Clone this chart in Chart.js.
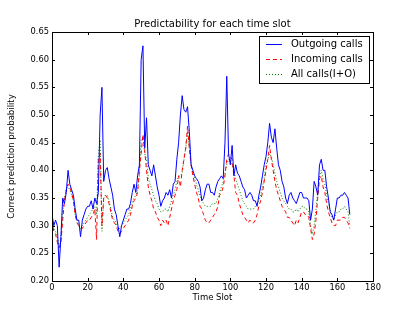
<!DOCTYPE html>
<html lang="en">
  <head>
    <meta charset="UTF-8" />
    <title>Predictability for each time slot</title>
    <script src="https://cdn.jsdelivr.net/npm/chart.js@4.4.0/dist/chart.umd.min.js"></script>
    <style>
      body { margin: 0; background: #fff; }
    </style>
  </head>
  <body>
    <canvas id="chart" width="415" height="313"></canvas>
    <script>
      // values, one per hourly slot (0..167)
      const outgoing = [
        0.32, 0.30, 0.31, 0.30, 0.225, 0.28, 0.35, 0.34, 0.36, 0.40,
        0.375, 0.365, 0.355, 0.33, 0.31, 0.31, 0.28, 0.31, 0.32, 0.33,
        0.335, 0.335, 0.345, 0.33, 0.35, 0.34, 0.36, 0.50, 0.55, 0.38,
        0.40, 0.405, 0.385, 0.37, 0.355, 0.33, 0.32, 0.30, 0.28, 0.30,
        0.31, 0.32, 0.33, 0.33, 0.34, 0.36, 0.375, 0.36, 0.39, 0.41,
        0.60, 0.625, 0.44, 0.495, 0.41, 0.40, 0.39, 0.41, 0.39, 0.37,
        0.355, 0.335, 0.345, 0.35, 0.36, 0.355, 0.365, 0.35, 0.375, 0.38,
        0.42, 0.45, 0.50, 0.535, 0.51, 0.505, 0.515, 0.47, 0.41, 0.40,
        0.39, 0.385, 0.38, 0.37, 0.345, 0.35, 0.365, 0.375, 0.375, 0.36,
        0.36, 0.355, 0.37, 0.38, 0.385, 0.39, 0.385, 0.45, 0.57, 0.43,
        0.41, 0.445, 0.39, 0.41, 0.395, 0.39, 0.38, 0.37, 0.365, 0.35,
        0.355, 0.36, 0.355, 0.345, 0.345, 0.335, 0.355, 0.37, 0.39, 0.41,
        0.425, 0.45, 0.485, 0.46, 0.45, 0.475, 0.44, 0.41, 0.40, 0.38,
        0.37, 0.35, 0.34, 0.355, 0.36, 0.35, 0.345, 0.34, 0.35, 0.36,
        0.36, 0.35, 0.35, 0.35, 0.345, 0.31, 0.33, 0.38, 0.37, 0.355,
        0.41, 0.42, 0.40, 0.40, 0.37, 0.35, 0.325, 0.32, 0.31, 0.33,
        0.35, 0.35, 0.355, 0.355, 0.36, 0.355, 0.35, 0.32
      ]
      const incoming = [
        0.31, 0.29, 0.285, 0.27, 0.26, 0.27, 0.31, 0.345, 0.365, 0.375,
        0.37, 0.36, 0.345, 0.32, 0.305, 0.30, 0.30, 0.295, 0.30, 0.305,
        0.31, 0.31, 0.315, 0.32, 0.33, 0.275, 0.42, 0.43, 0.30, 0.35,
        0.355, 0.35, 0.34, 0.325, 0.31, 0.305, 0.30, 0.29, 0.285, 0.29,
        0.295, 0.30, 0.305, 0.31, 0.32, 0.335, 0.345, 0.35, 0.36, 0.40,
        0.43, 0.465, 0.435, 0.40, 0.37, 0.355, 0.345, 0.33, 0.325, 0.315,
        0.31, 0.30, 0.31, 0.305, 0.31, 0.30, 0.315, 0.33, 0.345, 0.355,
        0.365, 0.39, 0.37, 0.40, 0.42, 0.44, 0.48, 0.44, 0.41, 0.39,
        0.375, 0.36, 0.35, 0.335, 0.33, 0.32, 0.31, 0.305, 0.305, 0.31,
        0.315, 0.32, 0.325, 0.335, 0.355, 0.36, 0.37, 0.39, 0.42, 0.43,
        0.425, 0.42, 0.39, 0.36, 0.355, 0.34, 0.33, 0.32, 0.315, 0.31,
        0.305, 0.31, 0.305, 0.305, 0.31, 0.32, 0.335, 0.345, 0.36, 0.38,
        0.40, 0.42, 0.445, 0.42, 0.40, 0.38, 0.365, 0.355, 0.345, 0.335,
        0.33, 0.325, 0.315, 0.315, 0.31, 0.305, 0.30, 0.31, 0.305, 0.315,
        0.325, 0.325, 0.32, 0.32, 0.315, 0.295, 0.275, 0.285, 0.31, 0.35,
        0.385, 0.39, 0.37, 0.36, 0.34, 0.325, 0.315, 0.305, 0.30, 0.30,
        0.31, 0.31, 0.31, 0.315, 0.315, 0.31, 0.305, 0.295
      ]
      const allCalls = [
        0.31, 0.295, 0.29, 0.28, 0.262, 0.275, 0.325, 0.35, 0.365, 0.37,
        0.365, 0.355, 0.345, 0.32, 0.31, 0.30, 0.295, 0.30, 0.305, 0.31,
        0.315, 0.32, 0.325, 0.33, 0.335, 0.32, 0.43, 0.455, 0.29, 0.35,
        0.355, 0.355, 0.345, 0.33, 0.315, 0.31, 0.305, 0.295, 0.295, 0.30,
        0.305, 0.31, 0.315, 0.32, 0.33, 0.34, 0.35, 0.355, 0.365, 0.39,
        0.455, 0.46, 0.43, 0.42, 0.385, 0.375, 0.365, 0.355, 0.345, 0.34,
        0.33, 0.325, 0.325, 0.33, 0.33, 0.325, 0.335, 0.345, 0.355, 0.365,
        0.38, 0.39, 0.39, 0.395, 0.42, 0.44, 0.47, 0.44, 0.41, 0.395,
        0.385, 0.375, 0.365, 0.355, 0.345, 0.34, 0.335, 0.335, 0.335, 0.335,
        0.34, 0.34, 0.34, 0.35, 0.36, 0.37, 0.38, 0.395, 0.41, 0.42,
        0.42, 0.41, 0.40, 0.385, 0.375, 0.365, 0.355, 0.345, 0.34, 0.335,
        0.33, 0.33, 0.33, 0.33, 0.335, 0.34, 0.345, 0.355, 0.37, 0.385,
        0.41, 0.42, 0.43, 0.425, 0.41, 0.395, 0.38, 0.37, 0.36, 0.35,
        0.345, 0.34, 0.335, 0.33, 0.33, 0.325, 0.325, 0.33, 0.325, 0.33,
        0.335, 0.335, 0.33, 0.33, 0.325, 0.30, 0.285, 0.30, 0.33, 0.36,
        0.39, 0.40, 0.385, 0.375, 0.355, 0.34, 0.33, 0.315, 0.31, 0.32,
        0.325, 0.325, 0.33, 0.33, 0.335, 0.33, 0.325, 0.30
      ]
      const seriesNames = ['Outgoing calls', 'Incoming calls', 'All calls(I+O)']
      const xTicks = [0, 20, 40, 60, 80, 100, 120, 140, 160, 180]
      const yTicks = [0.2, 0.25, 0.3, 0.35, 0.4, 0.45, 0.5, 0.55, 0.6, 0.65]

      const FONT = 'DejaVu Sans'
      const toPoints = (arr) => arr.map((v, i) => ({ x: i, y: v }))

      // matplotlib-like frame, inward ticks on all sides, titles, legend
      const frame = {
        id: 'frame',
        afterDraw(chart) {
          const c = chart.ctx
          const a = chart.chartArea
          const xs = chart.scales.x
          const ys = chart.scales.y
          c.save()
          c.strokeStyle = '#000'
          c.lineWidth = 1
          c.strokeRect(Math.round(a.left) + 0.5, Math.round(a.top) + 0.5,
            Math.round(a.right - a.left), Math.round(a.bottom - a.top))
          c.beginPath()
          xTicks.forEach((t) => {
            const px = Math.round(xs.getPixelForValue(t)) + 0.5
            c.moveTo(px, a.bottom); c.lineTo(px, a.bottom - 3)
            c.moveTo(px, a.top); c.lineTo(px, a.top + 3)
          })
          yTicks.forEach((t) => {
            const py = Math.round(ys.getPixelForValue(t)) + 0.5
            c.moveTo(a.left, py); c.lineTo(a.left + 3, py)
            c.moveTo(a.right, py); c.lineTo(a.right - 3, py)
          })
          c.stroke()

          c.fillStyle = '#000'
          c.textAlign = 'center'
          c.textBaseline = 'middle'
          c.font = '10px "' + FONT + '"'
          c.fillText('Predictability for each time slot', (a.left + a.right) / 2, 24)
          c.font = '8.5px "' + FONT + '"'
          c.fillText('Time Slot', (a.left + a.right) / 2, 298)
          c.save()
          c.translate(12, (a.top + a.bottom) / 2)
          c.rotate(-Math.PI / 2)
          c.fillText('Correct prediction probability', 0, 0)
          c.restore()

          // legend box
          const lx = 259, ly = 36, lw = 110, lh = 47
          c.fillStyle = '#fff'
          c.fillRect(lx, ly, lw, lh)
          c.strokeStyle = '#000'
          c.strokeRect(lx + 0.5, ly + 0.5, lw, lh)
          c.font = '10px "' + FONT + '"'
          c.textAlign = 'left'
          chart.data.datasets.forEach((ds, i) => {
            const yy = 44.5 + i * 15
            c.strokeStyle = ds.borderColor
            c.setLineDash(ds.borderDash || [])
            c.beginPath()
            c.moveTo(266, yy); c.lineTo(282, yy)
            c.stroke()
            c.setLineDash([])
            c.fillStyle = '#000'
            c.fillText(seriesNames[i], 291, yy)
          })
          c.restore()
        },
      }

      const tickFont = { family: FONT, size: 8.3 }
      const config = {
        type: 'line',
        data: {
          datasets: [
            { label: seriesNames[0], data: toPoints(outgoing), borderColor: '#0000ff', borderWidth: 1 },
            { label: seriesNames[1], data: toPoints(incoming), borderColor: '#ff0000', borderWidth: 1, borderDash: [4, 3] },
            { label: seriesNames[2], data: toPoints(allCalls), borderColor: '#008000', borderWidth: 1, borderDash: [1, 2] },
          ],
        },
        options: {
          responsive: false,
          animation: false,
          devicePixelRatio: 1,
          layout: { padding: { top: 32, right: 42, left: 0, bottom: 0 } },
          elements: { point: { radius: 0 }, line: { tension: 0 } },
          plugins: {
            legend: { display: false },
            tooltip: { enabled: false },
          },
          scales: {
            x: {
              type: 'linear',
              min: 0,
              max: 180,
              afterBuildTicks: (s) => { s.ticks = xTicks.map((v) => ({ value: v })) },
              ticks: { font: tickFont, color: '#000', padding: 2, maxRotation: 0 },
              grid: { display: false, drawTicks: false },
              border: { display: false },
              afterFit: (s) => { s.height = 32 },
            },
            y: {
              min: 0.2,
              max: 0.65,
              afterBuildTicks: (s) => { s.ticks = yTicks.map((v) => ({ value: v })) },
              ticks: { font: tickFont, color: '#000', padding: 3, callback: (v) => v.toFixed(2) },
              grid: { display: false, drawTicks: false },
              border: { display: false },
              afterFit: (s) => { s.width = 52 },
            },
          },
        },
        plugins: [frame],
      }
      const myChart = new Chart(document.getElementById('chart'), config)
    </script>
  </body>
</html>
